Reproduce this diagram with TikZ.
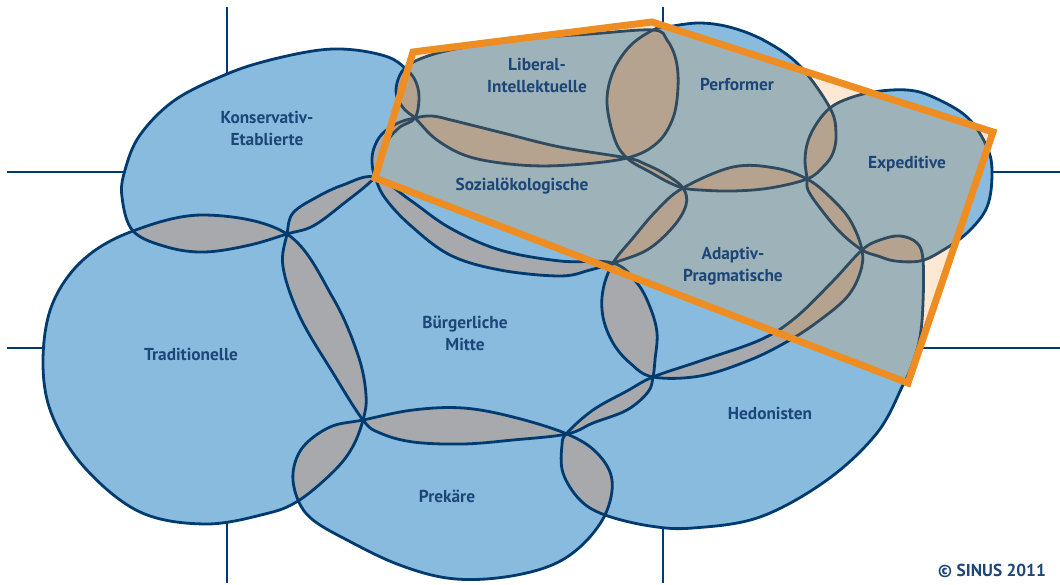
\documentclass[tikz,border=0pt]{standalone}
\usepackage{fontspec}
\setmainfont{PT Sans}
\definecolor{mblue}{RGB}{137,187,223}
\definecolor{mgray}{RGB}{167,169,172}
\definecolor{mline}{RGB}{0,59,111}
\definecolor{morange}{RGB}{238,142,34}
\definecolor{mtext}{RGB}{28,70,120}
\begin{document}
\begin{tikzpicture}[x=1pt,y=-1pt,line join=round]
\useasboundingbox (0,0) rectangle (1060,585);
\tikzset{
  shapeline/.style={draw=mline,line width=2.8pt},
  axisline/.style={draw=mline,line width=2.4pt},
  milieu/.style={fill=mblue},
  overlap/.style={fill=mgray},
  lbl/.style={text=mtext,font=\fontsize{17.3}{22}\selectfont\bfseries,align=center,inner sep=0pt},
  frame/.style={draw=morange,line width=7pt,line join=miter},
  tint/.style={fill=morange,fill opacity=0.2}
}
\def\shTR{plot[smooth cycle,tension=0.6] coordinates {(43,362) (52,305) (83,260) (133,231) (205,215) (287,234) (333,298) (358,355) (366,395) (363,420) (352,448) (333,472) (298,501) (265,514) (205,524) (140,512) (85,468) (52,415)}}
\def\shKE{plot[smooth cycle,tension=0.6] coordinates {(122,197) (133,231) (167,247) (205,252) (250,245) (287,234) (313,226) (343,204) (375,177) (380,158) (388,140) (400,127) (415,118) (419,97) (415,80) (405,68) (388,57) (355,50) (320,50) (270,60) (227,74) (175,100) (140,135) (125,170)}}
\def\shLI{plot[smooth cycle,tension=0.6] coordinates {(415,118) (405,110) (397,97) (397,83) (405,68) (425,57) (460,48) (520,39) (590,34) (653,30) (667,40) (676,60) (678,87) (673,118) (657,143) (627,158) (570,165) (520,165) (470,157) (437,140)}}
\def\shSO{plot[smooth cycle,tension=0.6] coordinates {(415,118) (432,116) (455,121) (503,133) (560,147) (627,158) (645,164) (665,174) (683,188) (686,205) (673,227) (647,250) (613,263) (590,270) (560,276) (500,270) (450,255) (410,225) (385,198) (375,177) (372,162) (374,148) (382,134) (398,123)}}
\def\shPE{plot[smooth cycle,tension=0.6] coordinates {(653,30) (667,27) (700,23) (733,28) (767,42) (800,66) (830,108) (836,133) (833,153) (823,167) (807,179) (770,188) (733,191) (700,190) (683,188) (668,182) (650,172) (628,159) (615,140) (607,103) (613,72) (630,46)}}
\def\shEX{plot[smooth cycle,tension=0.6] coordinates {(830,108) (847,99) (873,92) (907,90) (933,97) (967,117) (987,147) (992,173) (987,207) (967,233) (940,252) (920,261) (895,261) (878,256) (862,250) (840,232) (820,208) (808,190) (807,178) (805,160) (808,141) (817,123)}}
\def\shAP{plot[smooth cycle,tension=0.6] coordinates {(613,263) (633,238) (657,210) (683,188) (733,167) (775,168) (807,179) (830,197) (850,220) (862,250) (860,273) (847,297) (820,320) (790,340) (750,360) (700,376) (653,377) (630,363) (613,343) (603,317) (603,290)}}
\def\shHE{plot[smooth cycle,tension=0.6] coordinates {(653,377) (700,361) (760,340) (795,318) (833,281) (862,250) (880,240) (900,236) (917,243) (923,260) (923,303) (920,337) (912,365) (903,385) (877,433) (827,480) (760,517) (693,528) (650,526) (605,515) (580,500) (563,473) (562,445) (567,433) (593,410) (627,391)}}
\def\shBM{plot[smooth cycle,tension=0.6] coordinates {(287,234) (293,213) (317,197) (343,185) (375,177) (410,200) (450,228) (500,250) (560,261) (613,263) (637,283) (650,307) (657,333) (655,360) (653,377) (648,392) (627,410) (593,423) (567,434) (513,440) (463,444) (413,442) (380,433) (363,420) (333,373) (300,317) (283,267)}}
\def\shPR{plot[smooth cycle,tension=0.6] coordinates {(363,420) (413,410) (463,408) (513,417) (567,434) (597,453) (612,480) (605,515) (580,547) (547,567) (497,578) (447,578) (397,564) (347,540) (313,520) (298,500) (293,473) (303,447) (330,427)}}
% axis lines
\coordinate (va1) at (227,7);   \coordinate (va2) at (227,120);
\coordinate (va3) at (227,480); \coordinate (va4) at (227,583);
\coordinate (vb1) at (663,7);   \coordinate (vb2) at (663,60);
\coordinate (vb3) at (663,500); \coordinate (vb4) at (663,583);
\coordinate (ha1) at (7,172);   \coordinate (ha2) at (150,172);
\coordinate (ha3) at (950,172); \coordinate (ha4) at (1060,172);
\coordinate (hb1) at (7,348);   \coordinate (hb2) at (100,348);
\coordinate (hb3) at (880,348); \coordinate (hb4) at (1060,348);
\draw[axisline] (va1) -- (va2) (va3) -- (va4) (vb1) -- (vb2) (vb3) -- (vb4)
  (ha1) -- (ha2) (ha3) -- (ha4) (hb1) -- (hb2) (hb3) -- (hb4);
% milieu fills
\foreach \s in {\shTR,\shKE,\shLI,\shSO,\shPE,\shEX,\shAP,\shHE,\shBM,\shPR}{\fill[milieu] \s;}
% overlaps
\foreach \a/\b in {\shTR/\shKE,\shTR/\shBM,\shTR/\shPR,\shKE/\shBM,\shKE/\shSO,\shKE/\shLI,\shLI/\shSO,\shLI/\shPE,\shPE/\shSO,\shPE/\shAP,\shPE/\shEX,\shSO/\shAP,\shSO/\shBM,\shAP/\shBM,\shAP/\shEX,\shAP/\shHE,\shEX/\shHE,\shBM/\shHE,\shBM/\shPR,\shPR/\shHE}{
  \begin{scope}\clip \a; \fill[overlap] \b;\end{scope}}
% outlines
\foreach \s in {\shTR,\shKE,\shLI,\shSO,\shPE,\shEX,\shAP,\shHE,\shBM,\shPR}{\draw[shapeline] \s;}
% orange frame
\coordinate (o1) at (413,52);
\coordinate (o2) at (652,22);
\coordinate (o3) at (993,132);
\coordinate (o4) at (908,383);
\coordinate (o5) at (375,178);
\fill[tint] (o1) -- (o2) -- (o3) -- (o4) -- (o5) -- cycle;
\draw[frame] (o1) -- (o2) -- (o3) -- (o4) -- (o5) -- cycle;
% labels
\node[lbl] (ke) at (267,128) {Konservativ-\\Etablierte};
\node[lbl] (li) at (537,75) {Liberal-\\Intellektuelle};
\node[lbl] (pe) at (737,84) {Performer};
\node[lbl] (ex) at (907,164) {Expeditive};
\node[lbl] (so) at (522,186) {Sozialökologische};
\node[lbl] (ap) at (733,266) {Adaptiv-\\Pragmatische};
\node[lbl] (bm) at (465,333) {Bürgerliche\\Mitte};
\node[lbl] (tr) at (191,354) {Traditionelle};
\node[lbl] (pr) at (447,496) {Prekäre};
\node[lbl] (he) at (770,413) {Hedonisten};
\node[lbl,anchor=east] (cp) at (1046,571) {© SINUS 2011};
\end{tikzpicture}
\end{document}
